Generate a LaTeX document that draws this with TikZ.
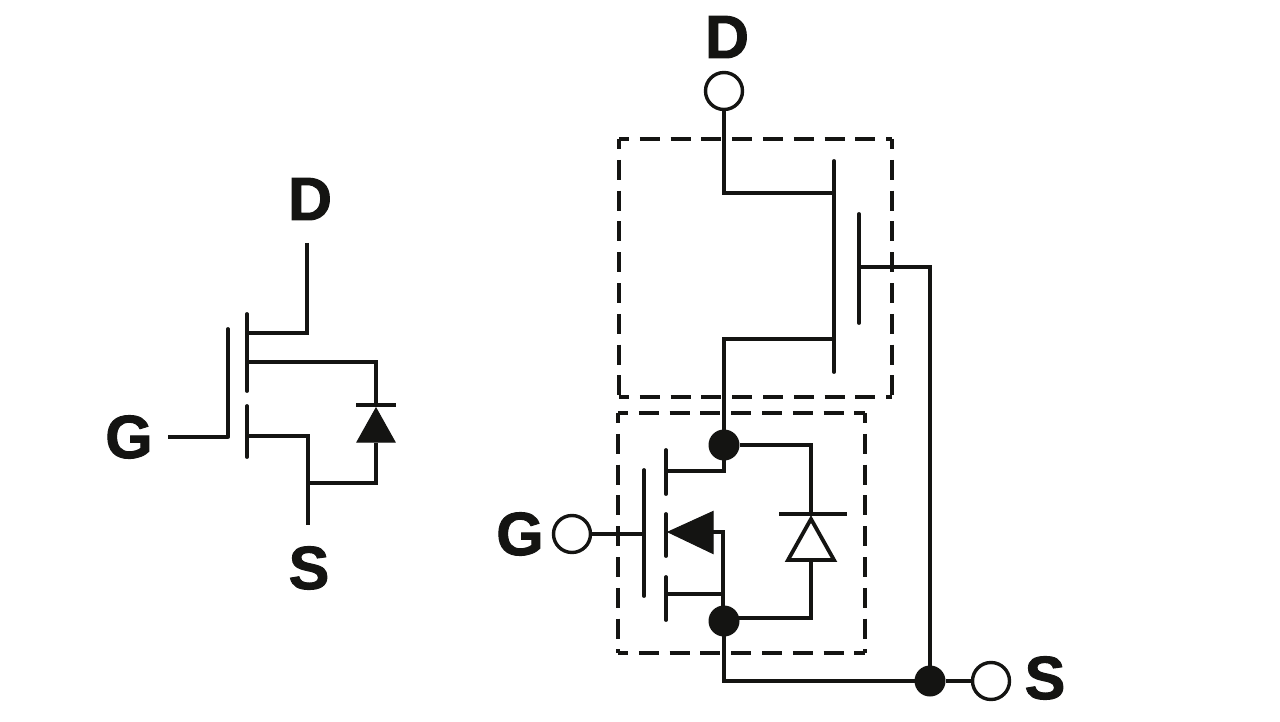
\documentclass[tikz,border=0pt]{standalone}
\usepackage{fontspec}
\setmainfont{Liberation Sans}
\newfontfamily\lblfont[FakeBold=1.6]{Liberation Sans Bold}
\definecolor{ink}{HTML}{141412}
\tikzset{
  wire/.style={draw=ink,line width=3.8pt,line cap=butt,line join=miter},
  heavy/.style={draw=ink,line width=4.6pt,line cap=butt,line join=miter},
  plate/.style={draw=ink,line width=3.8pt,line cap=round},
  dashbox/.style={draw=ink,line width=3.4pt,dash pattern=on 20pt off 10.8pt,dash phase=10pt},
  lbl/.style={inner sep=0pt,outer sep=0pt,text=ink,font=\fontsize{61}{61}\selectfont\lblfont},
  term/.style={circle,draw=ink,fill=white,line width=3.4pt,minimum size=37pt,inner sep=0pt,outer sep=0pt},
  dotn/.style={circle,fill=ink,draw=none,minimum size=31pt,inner sep=0pt,outer sep=0pt},
  solid tri/.style={fill=ink,draw=ink,line width=1pt,line join=miter},
  open tri/.style={fill=white,draw=ink,line width=3.8pt,line join=miter}
}
\begin{document}
\begin{tikzpicture}[x=1pt,y=-1pt]
\useasboundingbox[fill=white] (0,0) rectangle (1280,722);

% ---------- left symbol ----------
\node[lbl] (lD) at (310,199) {D};
\node[lbl] (lG) at (129,437) {G};
\node[lbl] (lS) at (309,568) {S};
\coordinate (ldtop) at (307,243);
\coordinate (ldch) at (247,333);
\coordinate (lmid) at (247,362);
\coordinate (lsch) at (247,436);
\coordinate (lgin) at (168,437);
\coordinate (lgp) at (228,437);
\coordinate (lsbot) at (308,525);
\coordinate (ljoin) at (308,483);
\coordinate (ldb) at (376,405);
\coordinate (ldt) at (376,443);

\draw[wire] (ldtop) |- (ldch);
\draw[wire] (lmid) -| (ldb);
\draw[wire] (lsch) -| (lsbot);
\draw[wire] (ljoin) -| (ldt);
\draw[wire] (lgin) -- (lgp);
\draw[plate] (228,329) -- (lgp);
\draw[plate] (247,314) -- (247,391);
\draw[plate] (247,406) -- (247,457);
\draw[plate,line cap=butt] (356,405) -- (396,405);
\draw[solid tri] (376,408) -- (357,442) -- (395,442) -- cycle;

% ---------- right symbol: upper device ----------
\draw[dashbox] (619,139) -- (892,139);
\draw[dashbox] (619,139) -- (619,397);
\draw[dashbox] (892,139) -- (892,397);
\draw[dashbox] (619,397) -- (892,397);

\node[lbl] (rD) at (727,37) {D};
\node[term] (tD) at (724,91) {};
\coordinate (uch1) at (834,193);
\coordinate (uch2) at (834,339);
\coordinate (ugp) at (859,267);
\draw[wire] (tD) |- (uch1);
\draw[plate] (834,161) -- (834,372);
\draw[plate] (859,214) -- (859,323);

% ---------- right symbol: lower device ----------
\draw[dashbox] (618,413) -- (865,413);
\draw[dashbox] (618,413) -- (618,653);
\draw[dashbox] (865,413) -- (865,653);
\draw[dashbox] (618,653) -- (865,653);

\node[dotn] (dt) at (724,445) {};
\node[dotn] (db) at (724,621) {};
\node[dotn] (dS) at (930,681) {};
\node[term] (tG) at (572,534) {};
\node[term] (tS) at (991,681) {};
\node[lbl] (rG) at (520,534) {G};
\node[lbl] (rS) at (1045,678) {S};

\draw[heavy] (uch2) -| (dt);
\draw[heavy] (ugp) -| (dS);
\draw[wire] (dt.center) -- (724,471) -- (666,471);
\draw[wire] (666,594) -- (723,594);
\draw[wire] (713,532) -- (723,532) -- (723,621);
\draw[wire] (tG) -- (644,534);
\draw[plate] (644,470) -- (644,596);
\draw[plate] (666,450) -- (666,494);
\draw[plate] (666,514) -- (666,556);
\draw[plate] (666,577) -- (666,620);
\draw[solid tri] (668,532) -- (713,511.5) -- (713,553.5) -- cycle;

\coordinate (dbar) at (811,514);
\coordinate (dbase) at (811,561);
\coordinate (dbr) at (811,618);
\draw[wire] (dt) -| (dbar);
\draw[heavy] (db.center) -- (724,618) -- (dbr) -- (dbase);
\draw[plate,line cap=butt] (779,514) -- (847,514);
\draw[open tri] (811,519) -- (788,560) -- (834,560) -- cycle;

\draw[heavy] (db.center) |- (dS);
\draw[wire] (dS) -- (tS);
\end{tikzpicture}
\end{document}
